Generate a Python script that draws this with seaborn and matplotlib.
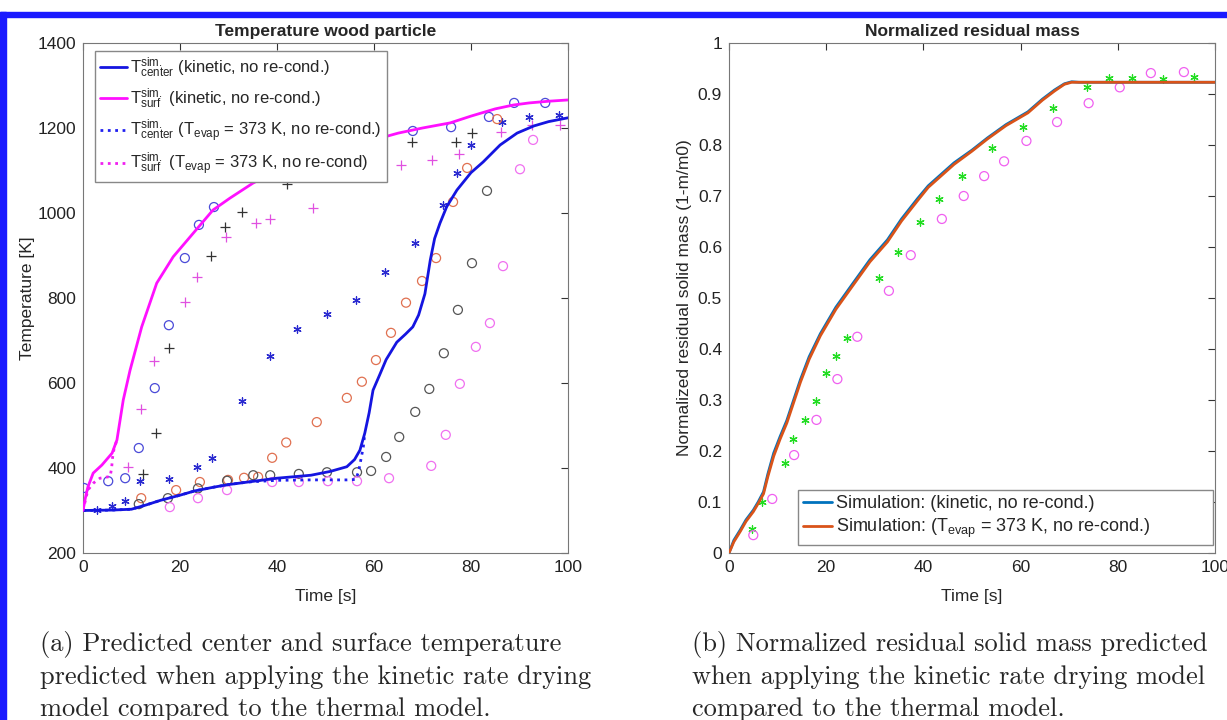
import numpy as np
import pandas as pd
import matplotlib
matplotlib.use('Agg')
import matplotlib.pyplot as plt
import seaborn as sns
from matplotlib.patches import Rectangle

# ---- left panel: simulated temperatures ----
t_center = [0, 6, 10, 13, 16, 20, 23, 27, 30, 34, 40, 47, 51, 54.4, 56, 57.1, 58.1, 59, 59.8, 61.2, 62.5,
            64.7, 66.5, 68, 69.2, 70.5, 71.6, 72.5, 73.6, 75, 77.1, 80, 82.5, 86, 89.5, 93, 96, 100]
T_center = [300, 301, 303, 313, 324, 336, 346, 355, 361, 367, 376, 383, 392, 403, 420, 442, 482, 530, 583, 620, 655,
            696, 715, 732, 760, 810, 889, 940, 976, 1015, 1054, 1095, 1120, 1160, 1188, 1205, 1215, 1224]
t_center_evap = [0, 6, 10, 13, 16, 20, 23, 27, 30, 34, 40, 47, 51, 54.4, 56.2, 56.8, 57.3, 57.8, 58.1]
T_center_evap = [300, 301, 303, 313, 324, 336, 346, 355, 361, 367, 371, 372, 372, 372, 373, 390, 420, 450, 482]

t_surf = [0, 0.5, 1, 2.1, 3.9, 6, 7, 8.3, 9.7, 12.1, 15.2, 18.6, 22.1, 26.8, 30.3, 35, 40,
          45, 50, 55, 61.2, 65, 70, 75.7, 80, 85, 88.7, 92, 96, 100]
T_surf = [300, 330, 355, 388, 407, 435, 466, 560, 630, 732, 835, 897, 944, 1007, 1035, 1070, 1100,
          1122, 1140, 1158, 1176, 1188, 1200, 1212, 1228, 1245, 1254, 1259, 1263, 1266]
t_surf_evap = [0, 1, 2.2, 3.5, 5.6, 5.9, 6.1, 6.4, 7]
T_surf_evap = [300, 348, 365, 376, 380, 400, 425, 445, 466]

# ---- left panel: measurements ----
t_blue_o = [0.2, 5.2, 8.7, 11.5, 14.8, 17.7, 21, 23.9, 27, 61.6, 68, 75.9, 83.7, 88.9, 95.3]
T_blue_o = [353, 369, 376, 447, 588, 736, 894, 972, 1014, 1190, 1193, 1202, 1226, 1259, 1259]
t_black_p = [12.4, 15, 17.7, 26.4, 29.3, 32.8, 42.1, 67.8, 76.9, 80.2]
T_black_p = [386, 482, 682, 899, 967, 1002, 1068, 1167, 1167, 1188]
t_mag_p = [9.3, 12, 14.7, 21, 23.5, 29.5, 35.7, 38.6, 47.5, 65.6, 72, 77.5, 86.2, 92.6, 98.4]
T_mag_p = [403, 539, 652, 790, 849, 943, 976, 986, 1012, 1113, 1125, 1139, 1191, 1207, 1207]
t_blue_s = [2.9, 6, 8.7, 11.8, 17.7, 23.5, 26.6, 32.8, 38.6, 44.1, 50.3, 56.3, 62.3, 68.5, 74.2, 77.1, 80,
            86.4, 92, 98.1]
T_blue_s = [301, 311, 322, 369, 374, 403, 424, 558, 664, 727, 762, 795, 861, 929, 1019, 1094, 1160,
            1214, 1226, 1230]
t_orange_o = [12, 19.2, 24.1, 29.9, 33.2, 36.1, 39, 41.9, 48.2, 54.4, 57.5, 60.4, 63.5, 66.6, 69.9, 72.8,
              76.3, 79.2, 85.4]
T_orange_o = [329, 348, 367, 372, 377, 379, 424, 460, 508, 565, 603, 654, 718, 789, 840, 894,
              1026, 1106, 1221]
t_black_o = [11.5, 17.5, 23.7, 29.7, 35.1, 38.6, 44.5, 50.3, 56.5, 59.4, 62.5, 65.2, 68.5, 71.4, 74.4,
             77.3, 80.2, 83.3]
T_black_o = [315, 329, 352, 370, 383, 383, 386, 390, 390, 393, 426, 473, 532, 586, 670,
             772, 882, 1052]
t_mag_o = [17.9, 23.7, 29.7, 39, 44.5, 50.5, 56.5, 63.1, 71.8, 74.8, 77.7, 81, 83.9, 86.6, 90.1, 92.8]
T_mag_o = [308, 329, 348, 367, 367, 369, 369, 376, 405, 478, 598, 685, 741, 875, 1103, 1172]

# ---- right panel ----
t_mass = [0, 1, 2.3, 3.5, 5, 6, 7.1, 8, 9.2, 10.5, 11.9, 13.3, 14.7, 16.5, 18.8, 22, 25.6, 29, 32.6, 35.5,
          38.8, 41, 46.3, 50, 53.2, 57, 61.5, 64.5, 67, 69, 70.5, 72, 100]
m_kin = [0, 0.025, 0.045, 0.065, 0.084, 0.1, 0.12, 0.155, 0.196, 0.228, 0.26, 0.3, 0.34, 0.385, 0.43, 0.482,
         0.53, 0.575, 0.614, 0.655, 0.695, 0.72, 0.765, 0.79, 0.814, 0.84, 0.865, 0.89, 0.908, 0.92, 0.924,
         0.923, 0.923]
m_evap = [0, 0.022, 0.042, 0.062, 0.081, 0.097, 0.116, 0.15, 0.19, 0.223, 0.255, 0.295, 0.335, 0.38, 0.426,
          0.478, 0.526, 0.571, 0.61, 0.651, 0.691, 0.717, 0.762, 0.788, 0.812, 0.838, 0.863, 0.888, 0.906,
          0.919, 0.923, 0.923, 0.923]
t_green = [4.8, 6.8, 11.6, 13.2, 15.7, 17.8, 20, 22.1, 24.2, 30.8, 34.7, 39.3, 43.2, 47.9, 54.1, 60.5,
           66.7, 73.6, 78.1, 82.9, 89.3, 95.7]
m_green = [0.048, 0.1, 0.176, 0.224, 0.26, 0.298, 0.353, 0.386, 0.421, 0.539, 0.59, 0.649, 0.694, 0.739,
           0.794, 0.835, 0.872, 0.914, 0.931, 0.931, 0.929, 0.933]
t_pink = [5, 8.9, 13.4, 18, 22.3, 26.4, 32.9, 37.4, 43.8, 48.3, 52.5, 56.6, 61.2, 67.5, 74, 80.4, 86.8, 93.6]
m_pink = [0.035, 0.106, 0.192, 0.261, 0.341, 0.424, 0.514, 0.584, 0.655, 0.7, 0.739, 0.768, 0.808, 0.845,
          0.882, 0.913, 0.941, 0.943]

sns.set_style('white')
plt.rcParams['font.family'] = ['Liberation Sans', 'DejaVu Sans']
plt.rcParams['mathtext.fontset'] = 'custom'
plt.rcParams['mathtext.rm'] = 'Liberation Sans'
plt.rcParams['mathtext.it'] = 'Liberation Sans'

fig = plt.figure(figsize=(12.27, 7.2), dpi=100)
ax1 = fig.add_axes([83 / 1227, 167 / 720, 485 / 1227, 510 / 720])
ax2 = fig.add_axes([729 / 1227, 167 / 720, 486 / 1227, 510 / 720])

star = (6, 2, 0)


def open_circles(ax, x, y, c):
    sns.scatterplot(x=x, y=y, marker='o', s=42, facecolor='none', edgecolor=c, linewidth=0.9, ax=ax, zorder=3)


def plain(ax, x, y, c, mk, s=42):
    sns.scatterplot(x=x, y=y, marker=mk, s=s, color=c, linewidth=0.9, ax=ax, zorder=3)


# left panel
open_circles(ax1, t_blue_o, T_blue_o, '#4a4ad8')
plain(ax1, t_black_p, T_black_p, '#333333', '+')
plain(ax1, t_mag_p, T_mag_p, '#e050e0', '+')
plain(ax1, t_blue_s, T_blue_s, '#2a2ad0', star, s=28)
open_circles(ax1, t_orange_o, T_orange_o, '#e07050')
open_circles(ax1, t_black_o, T_black_o, '#555555')
open_circles(ax1, t_mag_o, T_mag_o, '#f070f0')

sns.lineplot(x=t_center_evap, y=T_center_evap, color='#2020f0', lw=2, ls=':', sort=False, estimator=None,
             ax=ax1, zorder=4)
sns.lineplot(x=t_surf_evap, y=T_surf_evap, color='#f020f0', lw=2, ls=':', sort=False, estimator=None,
             ax=ax1, zorder=4)
sns.lineplot(x=t_center, y=T_center, color='#1515e0', lw=2, sort=False, estimator=None, ax=ax1, zorder=5)
sns.lineplot(x=t_surf, y=T_surf, color='#ff10ff', lw=2, sort=False, estimator=None, ax=ax1, zorder=5)

lines = ax1.get_lines()
h1 = [lines[2], lines[3], lines[0], lines[1]]
lab1 = [r'$\mathrm{T}^{\mathrm{sim.}}_{\mathrm{center}}$ (kinetic, no re-cond.)',
        r'$\mathrm{T}^{\mathrm{sim.}}_{\mathrm{surf}}$ (kinetic, no re-cond.)',
        r'$\mathrm{T}^{\mathrm{sim.}}_{\mathrm{center}}$ ($\mathrm{T}_{\mathrm{evap}}$ = 373 K, no re-cond.)',
        r'$\mathrm{T}^{\mathrm{sim.}}_{\mathrm{surf}}$ ($\mathrm{T}_{\mathrm{evap}}$ = 373 K, no re-cond)']
leg1 = ax1.legend(h1, lab1, loc='upper left', bbox_to_anchor=(0.025, 0.985), fontsize=12, frameon=True,
                  fancybox=False, framealpha=1, edgecolor='#888888', handlelength=1.6, handletextpad=0.2,
                  borderpad=0.3, labelspacing=0.4, borderaxespad=0)
leg1.set_zorder(10)

ax1.set_xlim(0, 100)
ax1.set_ylim(200, 1400)
ax1.set_xticks(np.arange(0, 101, 20))
ax1.set_yticks(np.arange(200, 1401, 200))
ax1.set_title('Temperature wood particle', fontsize=12.5, fontweight='bold', pad=5)
ax1.set_xlabel('Time [s]', fontsize=12.5, labelpad=10)
ax1.set_ylabel('Temperature [K]', fontsize=12.5, labelpad=2)

# right panel
sns.lineplot(x=t_mass, y=m_kin, color='#0072BD', lw=2, sort=False, estimator=None, ax=ax2, zorder=4,
             label='Simulation: (kinetic, no re-cond.)')
sns.lineplot(x=t_mass, y=m_evap, color='#D95319', lw=2, sort=False, estimator=None, ax=ax2, zorder=4,
             label=r'Simulation: ($\mathrm{T}_{\mathrm{evap}}$ = 373 K, no re-cond.)')
plain(ax2, t_green, m_green, '#22dd22', star, s=28)
open_circles(ax2, t_pink, m_pink, '#f060f0')
leg2 = ax2.legend(loc='lower left', bbox_to_anchor=(0.142, 0.015, 0.854, 0.1), mode='expand', fontsize=13,
                  frameon=True, fancybox=False, framealpha=1, edgecolor='#888888', handlelength=1.6,
                  handletextpad=0.2, borderpad=0.3, labelspacing=0.25, borderaxespad=0)
leg2.set_zorder(10)

ax2.set_xlim(0, 100)
ax2.set_ylim(0, 1)
ax2.set_xticks(np.arange(0, 101, 20))
ax2.set_yticks(np.arange(0, 1.01, 0.1))
ax2.set_yticklabels(['0'] + ['%.1f' % v for v in np.arange(0.1, 0.95, 0.1)] + ['1'])
ax2.set_title('Normalized residual mass', fontsize=12.5, fontweight='bold', pad=5)
ax2.set_xlabel('Time [s]', fontsize=12.5, labelpad=10)
ax2.set_ylabel('Normalized residual solid mass (1-m/m0)', fontsize=12.5)

for ax in (ax1, ax2):
    ax.tick_params(direction='in', length=5, width=0.8, colors='#333333', labelsize=12.5,
                   top=True, right=True, labelcolor='#222222', pad=5)
    for sp in ax.spines.values():
        sp.set_visible(True)
        sp.set_color('#777777')
        sp.set_linewidth(0.8)

# captions
cap_a = ['(a) Predicted center and surface temperature',
         'predicted when applying the kinetic rate drying',
         'model compared to the thermal model.']
cap_b = ['(b) Normalized residual solid mass predicted',
         'when applying the kinetic rate drying model',
         'compared to the thermal model.']
for i, (a, b) in enumerate(zip(cap_a, cap_b)):
    y = 1 - (645 + 32 * i) / 720
    fig.text(40 / 1227, y, a, family='cmr10', fontsize=19, va='center', ha='left')
    fig.text(692 / 1227, y, b, family='cmr10', fontsize=19, va='center', ha='left')

# blue frame at top and left edge
fig.patches.append(Rectangle((0, 1 - 17 / 720), 1, 5 / 720, transform=fig.transFigure, color='#1a1aff'))
fig.patches.append(Rectangle((0, 0), 6 / 1227, 1 - 12 / 720, transform=fig.transFigure, color='#1a1aff'))

fig.savefig('out.png', dpi=100)
